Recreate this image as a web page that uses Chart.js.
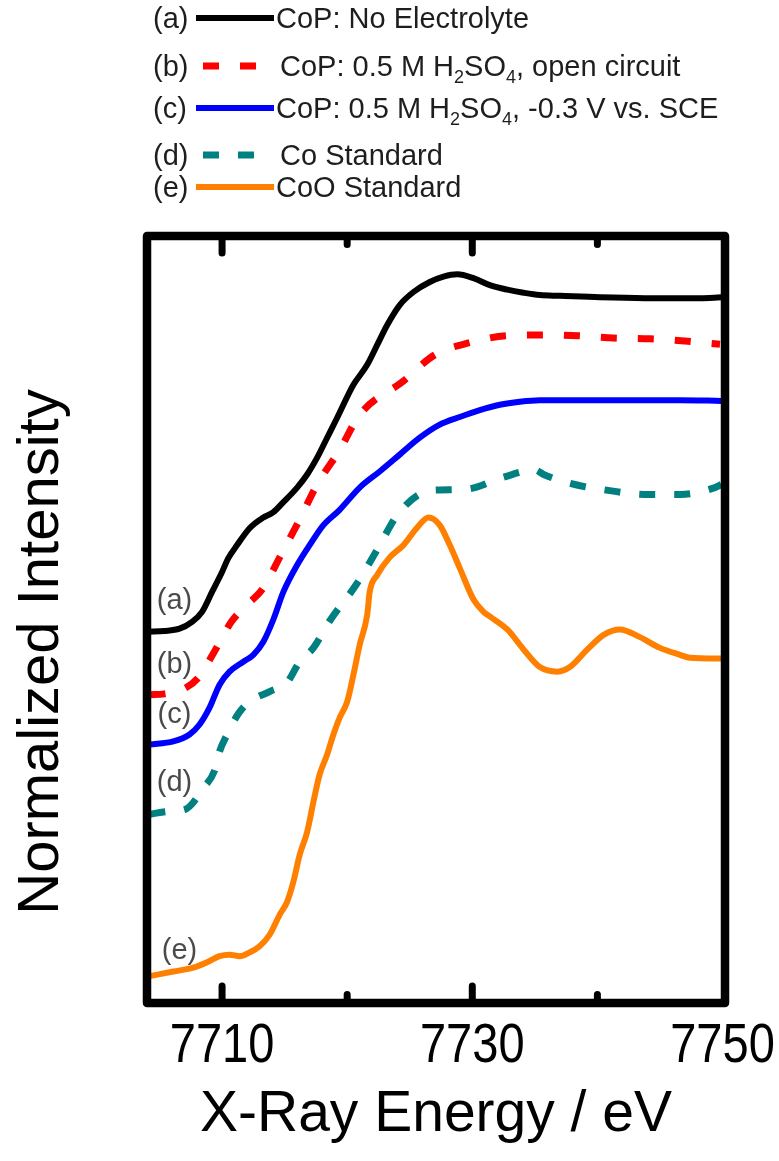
<!DOCTYPE html>
<html>
<head>
<meta charset="utf-8">
<script src="https://cdn.jsdelivr.net/npm/chart.js@4.4.0/dist/chart.umd.min.js"></script>
<style>
  body { margin: 0; background: #fff; }
  #wrap { position: relative; width: 779px; height: 1161px; }
  #chart { position: absolute; left: 0; top: 0; }
  .row {
    position: absolute; left: 153px; height: 40px;
    display: flex; align-items: center;
    font-family: "Liberation Sans", Arial, sans-serif; font-size: 29px;
    color: #1e1e1e; white-space: nowrap;
  }
  .row .tag { width: 43px; }
  .row svg { width: 80px; height: 12px; }
  .row sub { font-size: 18px; vertical-align: -7px; line-height: 0; }
</style>
</head>
<body>
<div id="wrap">
  <canvas id="chart" width="779" height="1161"></canvas>
</div>
<script>
// series (a) CoP: no electrolyte
const energyA = [7704.1, 7705.4, 7706.6, 7707.6, 7708.4, 7709.2, 7710.0, 7710.5, 7711.2, 7712.2, 7713.3, 7714.1, 7714.9, 7716.0, 7716.8, 7717.6, 7718.4, 7719.2, 7720.5, 7721.6, 7722.4, 7723.2, 7724.2, 7725.3, 7726.6, 7727.7, 7728.8, 7730.1, 7731.4, 7732.8, 7734.1, 7735.4, 7737.0, 7740.2, 7743.8, 7748.2, 7749.9];
const intensityA = [4.84, 4.85, 4.88, 4.97, 5.10, 5.36, 5.62, 5.80, 5.97, 6.19, 6.33, 6.40, 6.53, 6.72, 6.89, 7.11, 7.37, 7.63, 8.06, 8.32, 8.58, 8.84, 9.10, 9.27, 9.40, 9.47, 9.50, 9.45, 9.36, 9.30, 9.26, 9.23, 9.22, 9.20, 9.19, 9.19, 9.20];

// series (b) CoP: 0.5 M H2SO4, open circuit
const energyB = [7704.2, 7705.4, 7707.0, 7708.1, 7709.1, 7710.0, 7710.7, 7711.9, 7713.2, 7714.7, 7716.1, 7717.6, 7719.4, 7721.0, 7724.5, 7727.0, 7729.8, 7732.8, 7735.8, 7738.5, 7741.3, 7744.2, 7747.0, 7749.8];
const intensityB = [4.02, 4.03, 4.10, 4.24, 4.50, 4.76, 4.96, 5.18, 5.39, 5.84, 6.27, 6.76, 7.21, 7.67, 8.11, 8.45, 8.61, 8.70, 8.71, 8.70, 8.67, 8.66, 8.63, 8.59];

// series (c) CoP: 0.5 M H2SO4, -0.3 V vs. SCE
const energyC = [7704.2, 7706.1, 7707.4, 7708.2, 7709.0, 7709.8, 7710.6, 7711.7, 7712.5, 7713.3, 7714.1, 7714.9, 7716.0, 7717.0, 7718.1, 7719.4, 7721.0, 7722.6, 7724.2, 7725.8, 7727.4, 7729.0, 7730.6, 7732.2, 7733.8, 7735.4, 7738.6, 7741.8, 7746.6, 7749.9];
const intensityC = [3.37, 3.41, 3.50, 3.63, 3.85, 4.15, 4.32, 4.45, 4.54, 4.71, 5.00, 5.36, 5.71, 5.97, 6.23, 6.43, 6.72, 6.93, 7.15, 7.37, 7.54, 7.64, 7.73, 7.80, 7.84, 7.86, 7.86, 7.86, 7.86, 7.85];

// series (d) Co standard
const energyD = [7704.2, 7705.8, 7707.0, 7708.6, 7709.4, 7709.8, 7710.4, 7711.3, 7712.2, 7713.8, 7715.2, 7716.2, 7717.3, 7718.6, 7720.7, 7722.4, 7724.0, 7726.1, 7727.4, 7729.6, 7732.4, 7735.0, 7735.7, 7738.2, 7741.0, 7743.8, 7746.6, 7749.4, 7749.9];
const intensityD = [2.46, 2.50, 2.52, 2.82, 3.03, 3.28, 3.50, 3.77, 3.93, 4.06, 4.18, 4.45, 4.63, 4.98, 5.45, 5.91, 6.36, 6.66, 6.69, 6.70, 6.85, 6.95, 6.89, 6.76, 6.68, 6.63, 6.63, 6.72, 6.76];

// series (e) CoO standard
const energyE = [7704.2, 7706.1, 7707.7, 7708.8, 7709.8, 7710.6, 7711.4, 7712.2, 7713.0, 7713.8, 7714.6, 7715.2, 7715.7, 7716.2, 7716.8, 7717.3, 7717.8, 7718.4, 7718.9, 7719.4, 7720.0, 7720.5, 7721.0, 7721.6, 7721.8, 7722.4, 7723.4, 7724.5, 7725.6, 7726.5, 7727.4, 7728.2, 7729.0, 7730.1, 7730.9, 7731.4, 7732.8, 7734.1, 7735.4, 7736.8, 7737.8, 7739.2, 7740.5, 7741.8, 7743.4, 7745.0, 7746.6, 7747.4, 7749.9];
const intensityE = [0.35, 0.41, 0.46, 0.53, 0.61, 0.63, 0.61, 0.66, 0.74, 0.89, 1.15, 1.32, 1.58, 1.93, 2.23, 2.62, 2.98, 3.24, 3.50, 3.72, 3.93, 4.28, 4.67, 5.06, 5.36, 5.58, 5.81, 5.97, 6.20, 6.33, 6.23, 5.97, 5.67, 5.26, 5.10, 5.04, 4.87, 4.61, 4.38, 4.32, 4.38, 4.61, 4.80, 4.87, 4.77, 4.63, 4.54, 4.50, 4.49];

const tags = ["(a)", "(b)", "(c)", "(d)", "(e)"];
const names = [
  "CoP: No Electrolyte",
  "CoP: 0.5 M H<sub>2</sub>SO<sub>4</sub>, open circuit",
  "CoP: 0.5 M H<sub>2</sub>SO<sub>4</sub>, -0.3 V vs. SCE",
  "Co Standard",
  "CoO Standard"
];
const colors = ["#000000", "#ff0000", "#0000ff", "#008080", "#ff8000"];
const dashes = [[], [16, 21], [], [16, 19], []];
const energies = [energyA, energyB, energyC, energyD, energyE];
const intensities = [intensityA, intensityB, intensityC, intensityD, intensityE];

// curve labels inside the plot (energy, intensity)
const tagEnergy = [7706.2, 7706.2, 7706.2, 7706.2, 7706.6];
const tagIntensity = [5.24, 4.41, 3.76, 2.87, 0.68];

// legend rows (centre y)
const legendY = [18, 66, 108, 155, 187];

const sans = '"Liberation Sans", Arial, sans-serif';

const wrap = document.getElementById("wrap");
tags.forEach((t, i) => {
  const row = document.createElement("div");
  row.className = "row";
  row.style.top = (legendY[i] - 20) + "px";
  const d = dashes[i].length ? dashes[i].join(" ") : "none";
  const x1 = dashes[i].length ? 7 : 0;
  const x2 = dashes[i].length ? 62 : 78;
  row.innerHTML =
    '<span class="tag">' + t + '</span>' +
    '<svg viewBox="0 0 80 12"><line x1="' + x1 + '" y1="6" x2="' + x2 + '" y2="6" stroke="' + colors[i] +
    '" stroke-width="' + (dashes[i].length ? 7 : 6) + '" stroke-dasharray="' + d + '"/></svg>' +
    '<span style="margin-left:' + (dashes[i].length ? 4 : 0) + 'px">' + names[i] + '</span>';
  wrap.appendChild(row);
});

const tickLabel = v => (v % 20 === 10 ? String(v) : "");

const framePlugin = {
  id: "frame",
  afterDatasetsDraw(chart) {
    const { ctx, chartArea: a, scales: { x } } = chart;
    ctx.save();
    ctx.strokeStyle = "#000";
    ctx.lineJoin = "round";
    ctx.lineWidth = 8.5;
    ctx.strokeRect(a.left, a.top, a.right - a.left, a.bottom - a.top);
    ctx.lineCap = "round";
    ctx.lineWidth = 7;
    x.ticks.forEach(t => {
      const px = x.getPixelForValue(t.value);
      if (px > a.right - 6) return;
      const len = t.value % 20 === 10 ? 17 : 8.5;
      ctx.beginPath();
      ctx.moveTo(px, a.top);
      ctx.lineTo(px, a.top + len);
      ctx.moveTo(px, a.bottom);
      ctx.lineTo(px, a.bottom - len);
      ctx.stroke();
    });
    // narrow tick labels
    ctx.fillStyle = "#000";
    ctx.font = "56px " + sans;
    ctx.textAlign = "center";
    ctx.textBaseline = "alphabetic";
    x.ticks.forEach(t => {
      const s = tickLabel(t.value);
      if (!s) return;
      ctx.save();
      ctx.translate(x.getPixelForValue(t.value), a.bottom + 58.5);
      ctx.scale(0.84, 1);
      ctx.fillText(s, 0, 0);
      ctx.restore();
    });
    ctx.restore();
  }
};

const textPlugin = {
  id: "texts",
  afterDraw(chart) {
    const { ctx, scales: { x, y } } = chart;
    ctx.save();
    ctx.fillStyle = "#4a4a4a";
    ctx.font = "29px " + sans;
    ctx.textAlign = "center";
    ctx.textBaseline = "middle";
    tags.forEach((t, i) => {
      ctx.fillText(t, x.getPixelForValue(tagEnergy[i]), y.getPixelForValue(tagIntensity[i]));
    });
    // y axis title
    ctx.fillStyle = "#000";
    ctx.font = "58px " + sans;
    ctx.translate(58, 652);
    ctx.rotate(-Math.PI / 2);
    ctx.textBaseline = "alphabetic";
    ctx.fillText("Normalized Intensity", 0, 0);
    ctx.restore();
  }
};

new Chart(document.getElementById("chart"), {
  type: "line",
  data: {
    datasets: energies.map((e, i) => ({
      label: tags[i],
      data: e.map((v, k) => ({ x: v, y: intensities[i][k] })),
      borderColor: colors[i],
      borderWidth: dashes[i].length ? 7 : 6,
      borderDash: dashes[i],
      borderCapStyle: "butt",
      pointRadius: 0,
      cubicInterpolationMode: "monotone",
      fill: false
    }))
  },
  options: {
    responsive: false,
    animation: false,
    layout: { padding: { left: 147, right: 54, top: 236, bottom: 0 } },
    plugins: { legend: { display: false }, tooltip: { enabled: false } },
    scales: {
      x: {
        type: "linear",
        min: 7704,
        max: 7750.2,
        border: { display: false },
        grid: { display: false, drawTicks: false },
        ticks: {
          display: false,
          stepSize: 10,
          includeBounds: false,
          autoSkip: false,
          callback: tickLabel
        },
        title: {
          display: true,
          text: "X-Ray Energy / eV",
          color: "#000",
          font: { family: sans, size: 57 },
          padding: { top: 0, bottom: 12 }
        },
        afterFit: s => { s.height = 158; }
      },
      y: { display: false, min: 0, max: 10 }
    }
  },
  plugins: [framePlugin, textPlugin]
});
</script>
</body>
</html>
